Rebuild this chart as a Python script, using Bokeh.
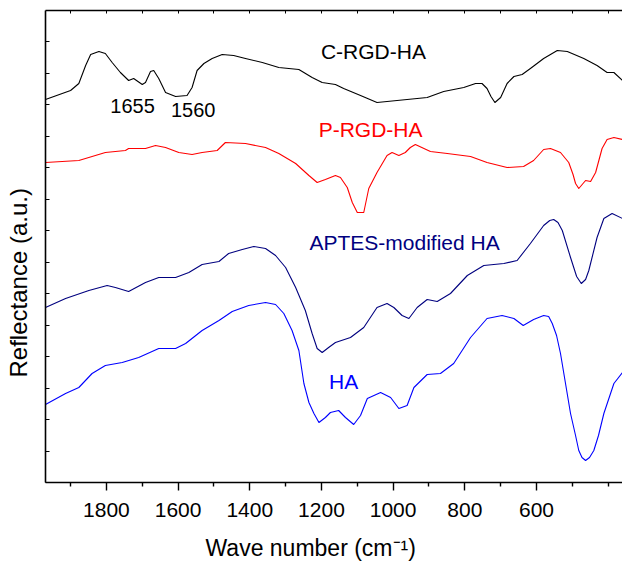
from bokeh.plotting import figure
from bokeh.models import Range1d, LinearAxis, SingleIntervalTicker, FixedTicker, Label, Title
from bokeh.embed import file_html
from bokeh.resources import INLINE

FONT = "Liberation Sans"

# ---- data (wave number in cm-1, reflectance in a.u. with vertical offsets) ----
c_rgd_wn = [1970, 1900, 1877, 1858, 1844, 1821, 1803, 1784, 1761, 1738, 1724, 1700, 1691, 1677,
            1668, 1654, 1635, 1607, 1575, 1561, 1547, 1528, 1505, 1477, 1445, 1412, 1365, 1319,
            1263, 1226, 1198, 1161, 1138, 1091, 1045, 989, 905, 859, 803, 770, 752, 738, 727, 716,
            700, 682, 663, 640, 617, 580, 542, 514, 468, 431, 403, 384, 360]
c_rgd_r = [38.3, 39.2, 39.9, 41.7, 42.8, 43.1, 42.9, 42.0, 41.0, 40.2, 40.4, 39.8, 40.0, 41.1,
           41.2, 40.4, 39.0, 38.6, 38.7, 39.5, 41.2, 41.9, 42.4, 42.8, 42.7, 42.4, 42.0, 41.5,
           41.3, 40.5, 40.0, 39.8, 39.4, 38.7, 38.0, 38.2, 38.5, 39.1, 39.5, 39.9, 39.9, 39.4, 38.6, 38.0,
           38.5, 39.9, 40.6, 40.8, 41.4, 42.4, 43.2, 43.1, 42.4, 41.7, 41.0, 41.0, 40.2]

p_rgd_wn = [1970, 1877, 1803, 1747, 1738, 1710, 1691, 1663, 1635, 1598, 1561, 1533, 1491, 1468,
            1412, 1356, 1319, 1272, 1235, 1212, 1189, 1161, 1147, 1128, 1114, 1100, 1082, 1068,
            1045, 1017, 1003, 984, 966, 952, 938, 896, 849, 784, 738, 682, 636, 608, 580, 561,
            533, 510, 498, 491, 482, 463, 449, 435, 417, 403, 384, 360]
p_rgd_r = [32.0, 32.2, 33.0, 33.2, 33.4, 33.4, 33.4, 33.7, 33.5, 33.0, 32.8, 33.0, 33.2, 34.0,
           33.9, 33.5, 32.9, 31.9, 30.7, 30.0, 30.3, 30.7, 30.5, 29.5, 28.0, 27.0, 27.0, 29.4,
           31.0, 32.7, 33.0, 32.7, 33.0, 33.5, 33.8, 33.1, 32.9, 32.6, 32.0, 31.5, 31.6, 32.2, 33.3, 33.4,
           33.0, 32.0, 30.8, 29.9, 29.4, 30.2, 30.1, 31.0, 33.4, 34.3, 34.5, 34.3]

aptes_wn = [1970, 1914, 1849, 1798, 1775, 1738, 1691, 1654, 1607, 1570, 1533, 1486, 1459, 1421,
            1389, 1356, 1328, 1300, 1272, 1245, 1226, 1212, 1198, 1180, 1161, 1119, 1082, 1045,
            1017, 998, 975, 956, 933, 905, 877, 840, 793, 747, 691, 654, 617, 580, 563, 552, 540, 528,
            505, 488, 475, 463, 454, 431, 412, 389, 360]
aptes_r = [17.5, 18.4, 19.2, 19.7, 19.5, 19.1, 20.0, 20.5, 20.5, 21.0, 21.8, 22.1, 22.9, 23.3,
           23.6, 23.4, 22.7, 21.5, 19.5, 17.2, 14.9, 13.4, 13.0, 13.5, 14.0, 14.5, 15.5, 17.5,
           17.9, 17.5, 16.7, 16.4, 17.5, 18.3, 18.1, 18.9, 20.7, 21.7, 21.9, 22.2, 23.9, 25.7, 26.2, 26.3, 26.0, 25.2,
           22.5, 20.6, 19.9, 20.3, 21.2, 24.5, 26.4, 26.9, 26.4]

ha_wn = [1970, 1914, 1877, 1840, 1803, 1756, 1710, 1654, 1607, 1579, 1533, 1486, 1449, 1403,
         1356, 1328, 1305, 1282, 1263, 1249, 1235, 1221, 1207, 1189, 1175, 1152, 1133, 1110,
         1091, 1072, 1035, 1007, 984, 961, 942, 905, 868, 831, 784, 738, 696, 663, 637, 608,
         580, 566, 556, 544, 533, 505, 491, 482, 473, 463, 452, 440, 427, 412, 384, 360]
ha_r = [7.8, 8.9, 9.5, 10.9, 11.7, 12.0, 12.5, 13.4, 13.4, 13.9, 15.2, 16.2, 17.1, 17.7,
        18.0, 17.8, 16.9, 15.2, 13.2, 9.9, 8.0, 6.9, 6.0, 6.5, 7.0, 7.2, 6.5, 5.8,
        6.7, 8.4, 9.0, 8.5, 7.4, 7.7, 9.5, 10.8, 10.9, 11.9, 14.5, 16.4, 16.7, 16.4, 15.7, 16.3,
        16.7, 16.6, 15.9, 14.7, 12.9, 6.9, 4.7, 3.2, 2.5, 2.2, 2.5, 3.2, 4.7, 6.9, 9.9, 11.0]

x_tick_values = [1800, 1600, 1400, 1200, 1000, 800, 600]
x_minor_values = [1900, 1700, 1500, 1300, 1100, 900, 700, 500, 400]

series = [
    ("C-RGD-HA", c_rgd_wn, c_rgd_r, "#000000"),
    ("P-RGD-HA", p_rgd_wn, p_rgd_r, "#ff0000"),
    ("APTES-modified HA", aptes_wn, aptes_r, "#00007f"),
    ("HA", ha_wn, ha_r, "#0000ff"),
]

p = figure(width=622, height=564, output_backend="svg", toolbar_location=None,
           x_range=Range1d(1970, 360), y_range=Range1d(0, 47.2),
           min_border_left=45, min_border_right=0, min_border_top=10, min_border_bottom=82)
p.outline_line_color = None
p.xgrid.visible = False
p.ygrid.visible = False
p.background_fill_color = "white"
p.border_fill_color = "white"

for name, wn, r, col in series:
    p.line(wn, r, line_color=col, line_width=1.1, line_join="round")

# bottom axis
xb = p.below[0]
xb.ticker = FixedTicker(ticks=x_tick_values, minor_ticks=x_minor_values)
xb.axis_line_width = 1.6
xb.major_tick_line_width = 1.4
xb.minor_tick_line_width = 1.4
xb.major_tick_in = 0
xb.major_tick_out = 8
xb.minor_tick_in = 0
xb.minor_tick_out = 4
xb.major_label_text_font = FONT
xb.major_label_text_font_size = "21px"
xb.major_label_text_color = "black"
xb.major_label_standoff = 12

# invisible spacer axis below the tick labels (pushes the x title down)
spacer_b = LinearAxis(ticker=FixedTicker(ticks=x_tick_values),
                      major_label_text_font_size="1px", major_label_text_color=None,
                      major_label_standoff=0, axis_line_color=None, major_tick_out=13,
                      major_tick_in=0, major_tick_line_color=None, minor_tick_line_color=None)
p.add_layout(spacer_b, "below")

# top axis (ticks only)
xt = LinearAxis(ticker=FixedTicker(ticks=x_tick_values, minor_ticks=x_minor_values),
                major_label_text_font_size="1px", major_label_text_color=None,
                major_label_standoff=0,
                major_tick_in=3, major_tick_out=0, minor_tick_in=3, minor_tick_out=0,
                axis_line_width=1.6)
p.add_layout(xt, "above")

# left axis (ticks only)
yl = p.left[0]
yl.ticker = SingleIntervalTicker(interval=3.147, num_minor_ticks=0)
yl.axis_line_width = 1.6
yl.major_tick_in = 4
yl.major_tick_out = 0
yl.major_tick_line_width = 1.2
yl.minor_tick_line_color = None
yl.major_label_text_font_size = "1px"
yl.major_label_text_color = None
yl.major_label_standoff = 0

# invisible spacer axis left of the y axis (pushes the y title outward)
spacer_l = LinearAxis(ticker=SingleIntervalTicker(interval=3.147, num_minor_ticks=0),
                      major_label_text_font_size="1px", major_label_text_color=None,
                      major_label_standoff=0, axis_line_color=None, major_tick_out=14,
                      major_tick_in=0, major_tick_line_color=None, minor_tick_line_color=None)
p.add_layout(spacer_l, "left")

# axis titles
p.add_layout(Title(text="Wave number (cm\u207b\u00b9)", align="left", offset=160,
                   text_font=FONT, text_font_size="23px", text_font_style="normal",
                   text_color="black", standoff=0), "below")
p.add_layout(Title(text="Reflectance (a.u.)", align="left", offset=105,
                   text_font=FONT, text_font_size="24px", text_font_style="normal",
                   text_color="black", standoff=0), "left")

# curve names and band positions
annotations = [
    ("C-RGD-HA", 1055, 43.15, "#000000", "21px"),
    ("P-RGD-HA", 1063, 35.35, "#ff0000", "21px"),
    ("APTES-modified HA", 968, 24.05, "#00007f", "21px"),
    ("HA", 1138, 10.15, "#0000ff", "21px"),
    ("1655", 1727, 37.7, "#000000", "20px"),
    ("1560", 1558, 37.25, "#000000", "20px"),
]
for t, x, y, col, fs in annotations:
    p.add_layout(Label(x=x, y=y, text=t, text_font=FONT, text_font_size=fs,
                       text_align="center", text_baseline="middle", text_color=col))

open("out.html", "w").write(file_html(p, INLINE))
